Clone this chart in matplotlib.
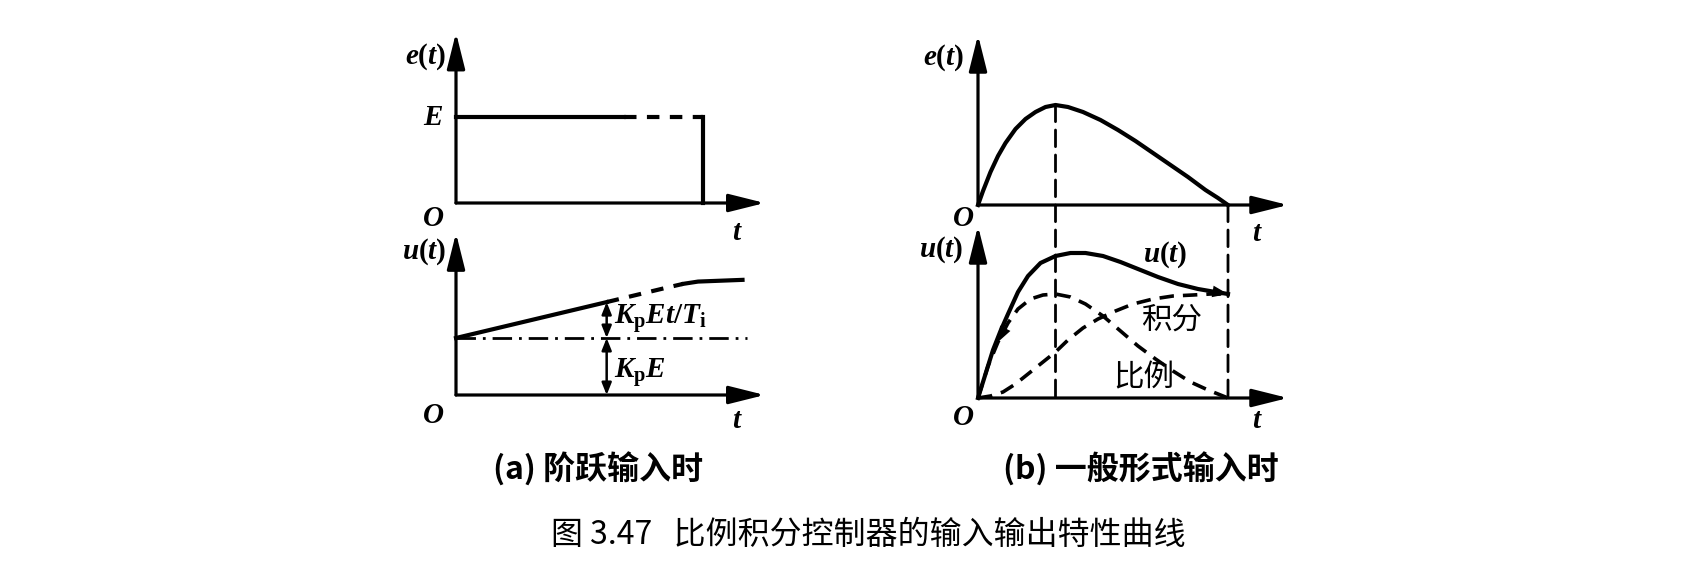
import matplotlib
matplotlib.use("Agg")
import matplotlib.pyplot as plt
from matplotlib.patches import ConnectionPatch

# ---- data ----
# (a) step input: e(t)=E, dashed part before the drop at t=T
step_t = [0.0, 0.68, 1.0]
step_e = [1.0, 1.0, 1.0]
# (a) output u(t): KpE level plus ramp KpEt/Ti
kpe_level = 1.0
ramp_t = [0.0, 0.61]
ramp_u = [1.0, 1.63]
ramp_dash_t = [0.61, 0.85, 0.92]
ramp_dash_u = [1.63, 1.88, 1.95]
hold_t = [0.92, 0.98, 1.16]
hold_u = [1.95, 1.99, 2.02]
marker_t = 0.61

# (b) general input
e_t = [0, 0.02, 0.05, 0.08, 0.11, 0.15, 0.19, 0.23, 0.27, 0.31, 0.36, 0.42,
       0.49, 0.56, 0.63, 0.70, 0.77, 0.84, 0.91, 0.96, 1.0]
e_v = [0, 0.14, 0.33, 0.49, 0.62, 0.76, 0.86, 0.93, 0.98, 1.0, 0.98, 0.93,
       0.85, 0.75, 0.64, 0.52, 0.40, 0.28, 0.15, 0.07, 0]
u_t = [0, 0.03, 0.06, 0.09, 0.12, 0.16, 0.20, 0.25, 0.31, 0.37, 0.43, 0.50,
       0.57, 0.64, 0.72, 0.80, 0.88, 0.95, 1.0]
u_v = [0, 0.24, 0.48, 0.67, 0.84, 1.06, 1.22, 1.35, 1.42, 1.45, 1.45, 1.42,
       1.36, 1.29, 1.21, 1.14, 1.09, 1.06, 1.04]
p_t = [0, 0.04, 0.08, 0.12, 0.16, 0.21, 0.26, 0.31, 0.37, 0.43, 0.50, 0.57,
       0.64, 0.71, 0.78, 0.85, 0.92, 1.0]
p_v = [0, 0.32, 0.56, 0.75, 0.89, 0.99, 1.03, 1.04, 1.01, 0.94, 0.82, 0.67,
       0.52, 0.39, 0.27, 0.16, 0.08, 0]
i_t = [0, 0.05, 0.10, 0.15, 0.20, 0.25, 0.31, 0.36, 0.42, 0.48, 0.55, 0.62,
       0.70, 0.78, 0.86, 0.93, 1.0]
i_v = [0, 0.02, 0.06, 0.14, 0.24, 0.34, 0.46, 0.58, 0.70, 0.79, 0.87, 0.94,
       0.99, 1.02, 1.03, 1.04, 1.04]
e_peak_t = 0.31
e_end_t = 1.0

# ---- figure ----
plt.rcParams['mathtext.fontset'] = 'custom'
plt.rcParams['mathtext.it'] = 'Liberation Serif:italic:bold'
plt.rcParams['mathtext.rm'] = 'Liberation Serif:bold'
plt.rcParams['mathtext.bf'] = 'Liberation Serif:bold'

W, H = 1702, 572
fig = plt.figure(figsize=(W / 100, H / 100), dpi=100)
fig.patch.set_facecolor('white')


def make_axes(ox, oy, sx, sy, xlo, xhi, ylo, yhi):
    # axes placed so that data (0,0) sits at pixel (ox, oy)
    ax = fig.add_axes([(ox + xlo * sx) / W, 1 - (oy - ylo * sy) / H,
                       (xhi - xlo) * sx / W, (yhi - ylo) * sy / H])
    ax.set_xlim(xlo, xhi)
    ax.set_ylim(ylo, yhi)
    ax.axis('off')
    return ax


def draw_axes(ax, xtip, ytip):
    ap = dict(arrowstyle='-|>,head_length=2.2,head_width=0.55', lw=2.3,
              color='black', shrinkA=0, shrinkB=0)
    ax.annotate('', xy=(xtip, 0), xytext=(0, 0), arrowprops=ap)
    ax.annotate('', xy=(0, ytip), xytext=(0, 0), arrowprops=ap)


lab = dict(fontsize=21, color='black', ha='center', va='center')
cjk = 'Noto Sans CJK SC'

# (a) top
ax1 = make_axes(456, 203, 247, 86, -0.3, 1.4, -0.4, 2.05)
draw_axes(ax1, 1.25, 1.98)
ax1.plot(step_t[:2], step_e[:2], color='black', lw=3)
ax1.plot(step_t[1:], step_e[1:], color='black', lw=3, linestyle=(0, (3, 2.5)))
ax1.plot([step_t[-1], step_t[-1]], [step_e[-1], 0], color='black', lw=3)
ax1.text(-0.04, 1.70, '$e(t)$', **{**lab, 'ha': 'right'})
ax1.text(-0.093, 1.0, '$E$', **lab)
ax1.text(-0.093, -0.17, '$O$', **lab)
ax1.text(1.14, -0.34, '$t$', **lab)

# (a) bottom
ax2 = make_axes(456, 395, 247, 57, -0.3, 1.4, -0.6, 2.9)
draw_axes(ax2, 1.25, 2.84)
ax2.plot([0, 1.18], [kpe_level, kpe_level], color='black', lw=2,
         linestyle=(0, (7, 2.5, 1, 2.5)))
ax2.plot(ramp_t, ramp_u, color='black', lw=3)
ax2.plot(ramp_dash_t, ramp_dash_u, color='black', lw=3, linestyle=(0, (3, 2.5)))
ax2.plot(hold_t, hold_u, color='black', lw=3)
dap = dict(arrowstyle='<|-|>,head_length=0.55,head_width=0.22', lw=1.8,
           color='black', shrinkA=0, shrinkB=0, mutation_scale=13)
ax2.annotate('', xy=(marker_t, ramp_u[-1]), xytext=(marker_t, kpe_level), arrowprops=dap)
ax2.annotate('', xy=(marker_t, kpe_level), xytext=(marker_t, 0), arrowprops=dap)
ax2.text(0.64, 1.35, r'$K_{\mathrm{p}}Et/T_{\mathrm{i}}$', **{**lab, 'ha': 'left'})
ax2.text(0.64, 0.40, r'$K_{\mathrm{p}}E$', **{**lab, 'ha': 'left'})
ax2.text(-0.04, 2.51, '$u(t)$', **{**lab, 'ha': 'right'})
ax2.text(-0.093, -0.35, '$O$', **lab)
ax2.text(1.14, -0.44, '$t$', **lab)

# (b) top
ax3 = make_axes(978, 205, 250, 100, -0.3, 1.4, -0.35, 1.75)
draw_axes(ax3, 1.24, 1.70)
ax3.plot(e_t, e_v, color='black', lw=3, solid_joinstyle='round')
ax3.text(-0.055, 1.47, '$e(t)$', **{**lab, 'ha': 'right'})
ax3.text(-0.06, -0.13, '$O$', **lab)
ax3.text(1.116, -0.28, '$t$', **lab)

# (b) bottom
ax4 = make_axes(978, 398, 250, 100, -0.3, 1.4, -0.35, 1.75)
draw_axes(ax4, 1.24, 1.72)
ax4.plot(u_t, u_v, color='black', lw=3, solid_joinstyle='round')
ax4.plot(p_t, p_v, color='black', lw=2.6, linestyle=(0, (4, 2.5)))
ax4.plot(i_t, i_v, color='black', lw=2.6, linestyle=(0, (4, 2.5)))
hap = dict(arrowstyle='-|>,head_length=0.8,head_width=0.3', lw=0,
           color='black', shrinkA=0, shrinkB=0, mutation_scale=14)
ax4.annotate('', xy=(u_t[-1], u_v[-1]), xytext=(u_t[-3], u_v[-3]), arrowprops=hap)
ax4.annotate('', xy=(p_t[2], p_v[2]), xytext=(p_t[3], p_v[3]), arrowprops=hap)
ax4.text(-0.06, 1.48, '$u(t)$', **{**lab, 'ha': 'right'})
ax4.text(0.75, 1.43, '$u(t)$', **lab)
ax4.text(0.776, 0.78, '积分', fontsize=22, family=cjk, ha='center', va='center')
ax4.text(0.664, 0.20, '比例', fontsize=22, family=cjk, ha='center', va='center')
ax4.text(-0.06, -0.19, '$O$', **lab)
ax4.text(1.116, -0.22, '$t$', **lab)

# dashed guides linking the two (b) panels
for xt, yt in [(e_peak_t, max(e_v)), (e_end_t, 0)]:
    con = ConnectionPatch(xyA=(xt, yt), coordsA=ax3.transData,
                          xyB=(xt, 0), coordsB=ax4.transData,
                          color='black', lw=2, linestyle=(0, (6, 3)))
    fig.add_artist(con)

# captions
fig.text(598 / W, 1 - 470 / H, '(a) 阶跃输入时', fontsize=23, family=cjk,
         fontweight='bold', ha='center', va='center')
fig.text(1141 / W, 1 - 470 / H, '(b) 一般形式输入时', fontsize=23, family=cjk,
         fontweight='bold', ha='center', va='center')
fig.text(868 / W, 1 - 535 / H, '图 3.47   比例积分控制器的输入输出特性曲线',
         fontsize=23, family=cjk, ha='center', va='center')

fig.savefig('out.png', dpi=100, facecolor='white')
